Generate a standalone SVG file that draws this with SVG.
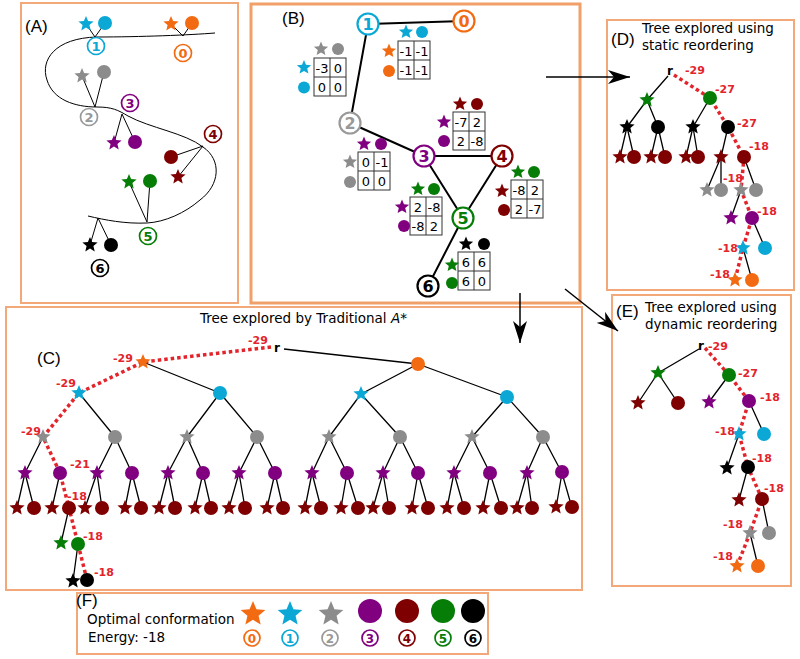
<svg xmlns="http://www.w3.org/2000/svg" xmlns:xlink="http://www.w3.org/1999/xlink" width="800" height="659" viewBox="0 0 800 659">
<style>
.panel{fill:none;stroke:#F2A878;stroke-width:2}
.e{stroke:#000;stroke-width:1.3;fill:none}
.eb{stroke:#000;stroke-width:2;fill:none}
.ea{stroke:#000;stroke-width:1;fill:none}
.rp{stroke:#E3242B;stroke-width:3.5;stroke-dasharray:3.5 3;fill:none}
.rl{font-family:'DejaVu Sans',sans-serif;font-weight:bold;font-size:11px;fill:#E3242B}
.t{font-family:'DejaVu Sans',sans-serif;font-size:13.5px;fill:#000}
.pl{font-family:'Liberation Sans',Arial,sans-serif;font-size:17px;fill:#000}
.r{font-family:'DejaVu Sans',sans-serif;font-weight:bold;font-size:12px;fill:#000}
.f0{fill:#F26B12}.f1{fill:#0BA8D6}.f2{fill:#8C8C8C}.f3{fill:#800080}.f4{fill:#7F0000}.f5{fill:#067D06}.f6{fill:#000}
.num circle{fill:#fff;stroke-width:1.7}
.num text{font-family:'DejaVu Sans',sans-serif;font-weight:bold;text-anchor:middle}
.k0 circle{stroke:#F26B12}.k0 text{fill:#F26B12}
.k1 circle{stroke:#0BA8D6}.k1 text{fill:#0BA8D6}
.k2 circle{stroke:#999}.k2 text{fill:#999}
.k3 circle{stroke:#800080}.k3 text{fill:#800080}
.k4 circle{stroke:#7F0000}.k4 text{fill:#7F0000}
.k5 circle{stroke:#067D06}.k5 text{fill:#067D06}
.k6 circle{stroke:#000}.k6 text{fill:#000}
.sm text{font-size:12px}
.bg circle{stroke-width:2.2}
.bg text{font-size:16px}
.mx rect{fill:#fff;stroke:#333;stroke-width:1}
.mx path{stroke:#333;stroke-width:1;fill:none}
.mx text{font-family:'DejaVu Sans',sans-serif;font-size:13px;text-anchor:middle;fill:#000}
</style>
<defs>
<path id="st" d="M0,-10 L2.645,-3.64 9.51,-3.09 4.28,1.39 5.88,8.09 0,4.5 -5.88,8.09 -4.28,1.39 -9.51,-3.09 -2.645,-3.64Z"/>
<marker id="ah" markerUnits="userSpaceOnUse" markerWidth="22" markerHeight="14" refX="22" refY="7" orient="auto">
<path d="M0,0 L22,7 L0,14 L6,7 Z" fill="#000"/>
</marker>
</defs>
<rect width="800" height="659" fill="#fff"/>

<!-- Panel boxes -->
<g id="panels">
<rect class="panel" x="21" y="3" width="217" height="300"/>
<rect class="panel" x="251" y="4" width="329" height="299" style="stroke-width:3;stroke:#F0A068"/>
<rect class="panel" x="607" y="20" width="187" height="270"/>
<rect class="panel" x="612" y="295" width="179" height="291"/>
<rect class="panel" x="6" y="307" width="576" height="283"/>
<rect class="panel" x="77" y="593" width="411" height="61"/>
</g>

<!-- Connectors (arrows between panels) -->
<g id="connectors">
<line x1="546" y1="77" x2="630" y2="77" stroke="#000" stroke-width="1.5" marker-end="url(#ah)"/>
<line x1="520" y1="293" x2="520" y2="343" stroke="#000" stroke-width="1.5" marker-end="url(#ah)"/>
<line x1="565" y1="289" x2="618" y2="331" stroke="#000" stroke-width="1.5" marker-end="url(#ah)"/>
</g>

<!-- Panel A -->
<g id="panelA">
<text class="pl" x="25" y="32">(A)</text>
<path class="ea" d="M215,33 C190,35 140,37 97,37 C55,38 40,60 47,80 C53,100 75,107 97,107 C112,107 118,110 128,116 C150,128 185,133 203,147 C222,160 220,185 200,200 C185,213 165,222 147,223 C125,224 105,220 88,216"/>
<path class="ea" d="M95,37 L86,24 M95,37 L105,23 M183,36 L171,24 M183,36 L192,23 M95,107 L82,76 M95,107 L104,72 M122,114 L114,143 M122,114 L135,142 M203,146 L171,157 M203,146 L178,177 M147,222 L129,182 M147,222 L150,181 M98,218 L90,245 M98,218 L111,245"/>
<g id="A-res1"><use href="#st" class="f1" transform="translate(86,24) scale(.8)"/><circle class="f1" cx="105" cy="23" r="7"/><g class="num k1"><circle cx="96" cy="46" r="8.5"/><text x="96" y="51" font-size="13">1</text></g></g>
<g id="A-res0"><use href="#st" class="f0" transform="translate(171,24) scale(.8)"/><circle class="f0" cx="192" cy="23" r="7"/><g class="num k0"><circle cx="183" cy="53" r="8.5"/><text x="183" y="58" font-size="13">0</text></g></g>
<g id="A-res2"><use href="#st" class="f2" transform="translate(82,76) scale(.8)"/><circle class="f2" cx="104" cy="72" r="7"/><g class="num k2"><circle cx="89" cy="117" r="8.5"/><text x="89" y="122" font-size="13">2</text></g></g>
<g id="A-res3"><use href="#st" class="f3" transform="translate(114,143) scale(.8)"/><circle class="f3" cx="135" cy="142" r="7"/><g class="num k3"><circle cx="130" cy="103" r="8.5"/><text x="130" y="108" font-size="13">3</text></g></g>
<g id="A-res4"><circle class="f4" cx="171" cy="157" r="7"/><use href="#st" class="f4" transform="translate(178,177) scale(.8)"/><g class="num k4"><circle cx="213" cy="134" r="8.5"/><text x="213" y="139" font-size="13">4</text></g></g>
<g id="A-res5"><use href="#st" class="f5" transform="translate(129,182) scale(.8)"/><circle class="f5" cx="150" cy="181" r="7"/><g class="num k5"><circle cx="148" cy="236" r="8.5"/><text x="148" y="241" font-size="13">5</text></g></g>
<g id="A-res6"><use href="#st" class="f6" transform="translate(90,245) scale(.8)"/><circle class="f6" cx="111" cy="245" r="7"/><g class="num k6"><circle cx="100" cy="268" r="8.5"/><text x="100" y="273" font-size="13">6</text></g></g>
</g>

<!-- Panel B -->
<g id="panelB">
<text class="pl" x="282" y="24">(B)</text>
<g id="B-edges"><path class="eb" d="M368,24 L464,21 M368,24 L350,123 M350,123 L424,156 M424,156 L502,156 M424,156 L463,218 M502,156 L463,218 M463,218 L428,286"/></g>
<g id="B-n1" class="num k1 bg"><circle cx="368" cy="24" r="10.5"/><text x="368" y="30">1</text></g>
<g id="B-n0" class="num k0 bg"><circle cx="464" cy="21" r="10.5"/><text x="464" y="27">0</text></g>
<g id="B-n2" class="num k2 bg"><circle cx="350" cy="123" r="10.5"/><text x="350" y="129">2</text></g>
<g id="B-n3" class="num k3 bg"><circle cx="424" cy="156" r="10.5"/><text x="424" y="162">3</text></g>
<g id="B-n4" class="num k4 bg"><circle cx="502" cy="156" r="10.5"/><text x="502" y="162">4</text></g>
<g id="B-n5" class="num k5 bg"><circle cx="463" cy="218" r="10.5"/><text x="463" y="224">5</text></g>
<g id="B-n6" class="num k6 bg"><circle cx="428" cy="286" r="10.5"/><text x="428" y="292">6</text></g>

<g id="B-m12" class="mx"><rect x="314" y="58" width="32" height="38"/><path d="M330,58 V96 M314,77 H346"/>
<text x="322" y="72.5">-3</text><text x="338" y="72.5">0</text><text x="322" y="91.5">0</text><text x="338" y="91.5">0</text>
<use href="#st" class="f2" transform="translate(321,49) scale(.75)"/><circle class="f2" cx="338" cy="49" r="6"/>
<use href="#st" class="f1" transform="translate(304,67.5) scale(.75)"/><circle class="f1" cx="304" cy="87.5" r="6"/></g>

<g id="B-m10" class="mx"><rect x="398" y="41" width="32" height="38"/><path d="M414,41 V79 M398,60 H430"/>
<text x="406" y="55.5">-1</text><text x="422" y="55.5">-1</text><text x="406" y="74.5">-1</text><text x="422" y="74.5">-1</text>
<use href="#st" class="f1" transform="translate(406,32) scale(.75)"/><circle class="f1" cx="422" cy="32" r="6"/>
<use href="#st" class="f0" transform="translate(389,51) scale(.75)"/><circle class="f0" cx="389" cy="71" r="6"/></g>

<g id="B-m34" class="mx"><rect x="453" y="112" width="32" height="38"/><path d="M469,112 V150 M453,131 H485"/>
<text x="461" y="126.5">-7</text><text x="477" y="126.5">2</text><text x="461" y="145.5">2</text><text x="477" y="145.5">-8</text>
<use href="#st" class="f4" transform="translate(460,104) scale(.75)"/><circle class="f4" cx="477" cy="104" r="6"/>
<use href="#st" class="f3" transform="translate(444,122) scale(.75)"/><circle class="f3" cx="444" cy="141" r="6"/></g>

<g id="B-m23" class="mx"><rect x="358" y="152" width="32" height="38"/><path d="M374,152 V190 M358,171 H390"/>
<text x="366" y="166.5">0</text><text x="382" y="166.5">-1</text><text x="366" y="185.5">0</text><text x="382" y="185.5">0</text>
<use href="#st" class="f3" transform="translate(364,144) scale(.75)"/><circle class="f3" cx="381" cy="144" r="6"/>
<use href="#st" class="f2" transform="translate(350,162) scale(.75)"/><circle class="f2" cx="350" cy="182" r="6"/></g>

<g id="B-m35" class="mx"><rect x="410" y="197" width="32" height="38"/><path d="M426,197 V235 M410,216 H442"/>
<text x="418" y="211.5">2</text><text x="434" y="211.5">-8</text><text x="418" y="230.5">-8</text><text x="434" y="230.5">2</text>
<use href="#st" class="f5" transform="translate(418,189) scale(.75)"/><circle class="f5" cx="434" cy="189" r="6"/>
<use href="#st" class="f3" transform="translate(402,207) scale(.75)"/><circle class="f3" cx="404" cy="226" r="6"/></g>

<g id="B-m45" class="mx"><rect x="511" y="180" width="32" height="38"/><path d="M527,180 V218 M511,199 H543"/>
<text x="519" y="194.5">-8</text><text x="535" y="194.5">2</text><text x="519" y="213.5">2</text><text x="535" y="213.5">-7</text>
<use href="#st" class="f5" transform="translate(518,172) scale(.75)"/><circle class="f5" cx="534" cy="172" r="6"/>
<use href="#st" class="f4" transform="translate(502,191) scale(.75)"/><circle class="f4" cx="504" cy="210" r="6"/></g>

<g id="B-m56" class="mx"><rect x="458" y="252" width="32" height="38"/><path d="M474,252 V290 M458,271 H490"/>
<text x="466" y="266.5">6</text><text x="482" y="266.5">6</text><text x="466" y="285.5">6</text><text x="482" y="285.5">0</text>
<use href="#st" class="f6" transform="translate(466,244) scale(.75)"/><circle class="f6" cx="484" cy="244" r="6"/>
<use href="#st" class="f5" transform="translate(452,265) scale(.75)"/><circle class="f5" cx="452" cy="283" r="6"/></g>
</g>

<!-- Panel D -->
<g id="panelD">
<text class="pl" x="611" y="45">(D)</text>
<text class="t" x="642" y="33">Tree explored using</text>
<text class="t" x="642" y="50">static reordering</text>
<g id="D-edges"><path class="e" d="M668,76 L647,100 M647,100 L627,127 M647,100 L658,127 M710,98 L693,127 M627,127 L620,157 M627,127 L634,157 M658,127 L651,157 M658,127 L665,157 M693,127 L686,157 M693,127 L698,157 M728,127 L721,157 M721,157 L707,190 M721,157 L721,190 M744,157 L756,190 M741,190 L731,218 M752,218 L765,248 M743,248 L752,280"/>
<path class="rp" d="M674,75 L710,98 L728,127 L744,157 L741,190 L752,218 L743,248 L735,280"/></g>
<g id="D-nodes">
<text class="r" x="667" y="75">r</text>
<use href="#st" class="f5" transform="translate(647,100) scale(.8)"/><circle class="f5" cx="710" cy="98" r="7"/>
<use href="#st" class="f6" transform="translate(627,127) scale(.8)"/><circle class="f6" cx="658" cy="127" r="7"/>
<use href="#st" class="f6" transform="translate(693,127) scale(.8)"/><circle class="f6" cx="728" cy="127" r="7"/>
<use href="#st" class="f4" transform="translate(620,157) scale(.8)"/><circle class="f4" cx="634" cy="157" r="7"/>
<use href="#st" class="f4" transform="translate(651,157) scale(.8)"/><circle class="f4" cx="665" cy="157" r="7"/>
<use href="#st" class="f4" transform="translate(686,157) scale(.8)"/><circle class="f4" cx="698" cy="157" r="7"/>
<use href="#st" class="f4" transform="translate(721,157) scale(.8)"/><circle class="f4" cx="744" cy="157" r="7"/>
<use href="#st" class="f2" transform="translate(707,190) scale(.8)"/><circle class="f2" cx="721" cy="190" r="7"/>
<use href="#st" class="f2" transform="translate(741,190) scale(.8)"/><circle class="f2" cx="756" cy="190" r="7"/>
<use href="#st" class="f3" transform="translate(731,218) scale(.8)"/><circle class="f3" cx="752" cy="218" r="7"/>
<use href="#st" class="f1" transform="translate(743,248) scale(.8)"/><circle class="f1" cx="765" cy="248" r="7"/>
<use href="#st" class="f0" transform="translate(735,280) scale(.8)"/><circle class="f0" cx="752" cy="280" r="7"/>
</g>
<g id="D-labels">
<text class="rl" x="685" y="74">-29</text>
<text class="rl" x="715" y="93">-27</text>
<text class="rl" x="737" y="127">-27</text>
<text class="rl" x="749" y="150">-18</text>
<text class="rl" x="723" y="182">-18</text>
<text class="rl" x="757" y="215">-18</text>
<text class="rl" x="718" y="252">-18</text>
<text class="rl" x="710" y="278">-18</text>
</g>
</g>

<!-- Panel E -->
<g id="panelE">
<text class="pl" x="616" y="317">(E)</text>
<text class="t" x="645" y="312">Tree explored using</text>
<text class="t" x="645" y="329">dynamic reordering</text>
<g id="E-edges"><path class="e" d="M699,349 L658,373 M658,373 L638,403 M658,373 L678,403 M729,375 L709,402 M749,401 L764,434 M739,434 L727,468 M748,467 L739,500 M762,499 L769,533 M750,533 L758,566"/>
<path class="rp" d="M705,348 L729,375 L749,401 L739,434 L748,467 L762,499 L750,533 L737,566"/></g>
<g id="E-nodes">
<text class="r" x="698" y="350">r</text>
<use href="#st" class="f5" transform="translate(658,373) scale(.8)"/><circle class="f5" cx="729" cy="375" r="7"/>
<use href="#st" class="f4" transform="translate(638,403) scale(.8)"/><circle class="f4" cx="678" cy="403" r="7"/>
<use href="#st" class="f3" transform="translate(709,402) scale(.8)"/><circle class="f3" cx="749" cy="401" r="7"/>
<use href="#st" class="f1" transform="translate(739,434) scale(.8)"/><circle class="f1" cx="764" cy="434" r="7"/>
<use href="#st" class="f6" transform="translate(727,468) scale(.8)"/><circle class="f6" cx="748" cy="467" r="7"/>
<use href="#st" class="f4" transform="translate(739,500) scale(.8)"/><circle class="f4" cx="762" cy="499" r="7"/>
<use href="#st" class="f2" transform="translate(750,533) scale(.8)"/><circle class="f2" cx="769" cy="533" r="7"/>
<use href="#st" class="f0" transform="translate(737,566) scale(.8)"/><circle class="f0" cx="758" cy="566" r="7"/>
</g>
<g id="E-labels">
<text class="rl" x="708" y="350">-29</text>
<text class="rl" x="738" y="377">-27</text>
<text class="rl" x="760" y="401">-18</text>
<text class="rl" x="715" y="435">-18</text>
<text class="rl" x="752" y="462">-18</text>
<text class="rl" x="764" y="492">-18</text>
<text class="rl" x="723" y="528">-18</text>
<text class="rl" x="713" y="560">-18</text>
</g>
</g>

<!-- Panel C -->
<g id="panelC">
<text class="pl" x="37" y="364">(C)</text>
<text class="t" x="200" y="323">Tree explored by Traditional <tspan font-style="italic">A</tspan>*</text>
<g id="C-edges"><path class="e" d="M284,349 L418,364 M143,362 L220,393 M418,364 L361,394 M418,364 L507,397 M79,393 L115,437 M220,393 L187,437 M220,393 L257,437 M361,394 L329,437 M361,394 L400,437 M507,397 L472,437 M507,397 L543,437 M43,437 L25,473 M115,437 L97,473 M115,437 L132,473 M187,437 L168,473 M187,437 L203,473 M257,437 L239,473 M257,437 L275,473 M329,437 L312,473 M329,437 L347,473 M400,437 L383,473 M400,437 L418,473 M472,437 L454,473 M472,437 L490,473 M543,437 L527,473 M543,437 L562,473 M25,473 L17,508 M25,473 L34,508 M60,473 L52,508 M97,473 L85,508 M97,473 L102,508 M132,473 L125,508 M132,473 L141,508 M168,473 L159,508 M168,473 L175,508 M203,473 L195,508 M203,473 L211,508 M239,473 L229,508 M239,473 L245,508 M275,473 L267,508 M275,473 L283,508 M312,473 L305,508 M312,473 L321,508 M347,473 L341,508 M347,473 L358,508 M383,473 L373,508 M383,473 L389,508 M418,473 L412,508 M418,473 L428,508 M454,473 L447,508 M454,473 L464,508 M490,473 L483,508 M490,473 L501,508 M527,473 L517,508 M527,473 L532,508 M562,473 L556,508 M562,473 L572,508 M69,508 L61,543 M78,544 L73,581"/>
<path class="rp" d="M271,347 L143,362 L79,393 L43,437 L60,473 L69,508 L78,544 L87,580"/></g>
<g id="C-nodes">
<text class="r" x="274" y="352">r</text>
<use href="#st" class="f0" transform="translate(143,362) scale(.8)"/><circle class="f0" cx="418" cy="364" r="7"/>
<use href="#st" class="f1" transform="translate(79,393) scale(.8)"/><circle class="f1" cx="220" cy="393" r="7"/>
<use href="#st" class="f1" transform="translate(361,394) scale(.8)"/><circle class="f1" cx="507" cy="397" r="7"/>
<g class="f2">
<use href="#st" transform="translate(43,437) scale(.8)"/><use href="#st" transform="translate(187,437) scale(.8)"/><use href="#st" transform="translate(329,437) scale(.8)"/><use href="#st" transform="translate(472,437) scale(.8)"/>
<circle cx="115" cy="437" r="7"/><circle cx="257" cy="437" r="7"/><circle cx="400" cy="437" r="7"/><circle cx="543" cy="437" r="7"/>
</g>
<g class="f3">
<use href="#st" transform="translate(25,473) scale(.8)"/><use href="#st" transform="translate(97,473) scale(.8)"/><use href="#st" transform="translate(168,473) scale(.8)"/><use href="#st" transform="translate(239,473) scale(.8)"/><use href="#st" transform="translate(312,473) scale(.8)"/><use href="#st" transform="translate(383,473) scale(.8)"/><use href="#st" transform="translate(454,473) scale(.8)"/><use href="#st" transform="translate(527,473) scale(.8)"/>
<circle cx="60" cy="473" r="7"/><circle cx="132" cy="473" r="7"/><circle cx="203" cy="473" r="7"/><circle cx="275" cy="473" r="7"/><circle cx="347" cy="473" r="7"/><circle cx="418" cy="473" r="7"/><circle cx="490" cy="473" r="7"/><circle cx="562" cy="472" r="7"/>
</g>
<g class="f4">
<use href="#st" transform="translate(17,508) scale(.8)"/><use href="#st" transform="translate(52,508) scale(.8)"/><use href="#st" transform="translate(85,508) scale(.8)"/><use href="#st" transform="translate(125,508) scale(.8)"/><use href="#st" transform="translate(159,508) scale(.8)"/><use href="#st" transform="translate(195,508) scale(.8)"/><use href="#st" transform="translate(229,508) scale(.8)"/><use href="#st" transform="translate(267,508) scale(.8)"/><use href="#st" transform="translate(305,508) scale(.8)"/><use href="#st" transform="translate(341,508) scale(.8)"/><use href="#st" transform="translate(373,508) scale(.8)"/><use href="#st" transform="translate(412,508) scale(.8)"/><use href="#st" transform="translate(447,508) scale(.8)"/><use href="#st" transform="translate(483,508) scale(.8)"/><use href="#st" transform="translate(517,508) scale(.8)"/><use href="#st" transform="translate(556,507) scale(.8)"/>
<circle cx="34" cy="508" r="7"/><circle cx="69" cy="508" r="7"/><circle cx="102" cy="508" r="7"/><circle cx="141" cy="508" r="7"/><circle cx="175" cy="508" r="7"/><circle cx="211" cy="508" r="7"/><circle cx="245" cy="508" r="7"/><circle cx="283" cy="508" r="7"/><circle cx="321" cy="508" r="7"/><circle cx="358" cy="508" r="7"/><circle cx="389" cy="508" r="7"/><circle cx="428" cy="508" r="7"/><circle cx="464" cy="508" r="7"/><circle cx="501" cy="508" r="7"/><circle cx="532" cy="508" r="7"/><circle cx="572" cy="507" r="7"/>
</g>
<use href="#st" class="f5" transform="translate(61,543) scale(.8)"/><circle class="f5" cx="78" cy="544" r="7"/>
<use href="#st" class="f6" transform="translate(73,581) scale(.8)"/><circle class="f6" cx="87" cy="580" r="7"/>
</g>
<g id="C-labels">
<text class="rl" x="248" y="344">-29</text>
<text class="rl" x="113" y="362">-29</text>
<text class="rl" x="56" y="387">-29</text>
<text class="rl" x="21" y="435">-29</text>
<text class="rl" x="70" y="468">-21</text>
<text class="rl" x="67" y="500">-18</text>
<text class="rl" x="83" y="540">-18</text>
<text class="rl" x="94" y="576">-18</text>
</g>
</g>

<!-- Panel F -->
<g id="panelF">
<text class="pl" x="76" y="606" font-size="16">(F)</text>
<text class="t" x="87" y="624" font-size="13">Optimal conformation</text>
<text class="t" x="88" y="642" font-size="13">Energy: -18</text>
<g id="F-0"><use href="#st" class="f0" transform="translate(253,614) scale(1.3)"/><g class="num k0"><circle cx="252" cy="638" r="8"/><text x="252" y="642.5" font-size="12">0</text></g></g>
<g id="F-1"><use href="#st" class="f1" transform="translate(290,614) scale(1.3)"/><g class="num k1"><circle cx="290" cy="638" r="8"/><text x="290" y="642.5" font-size="12">1</text></g></g>
<g id="F-2"><use href="#st" class="f2" transform="translate(331,614) scale(1.3)"/><g class="num k2"><circle cx="330" cy="638" r="8"/><text x="330" y="642.5" font-size="12">2</text></g></g>
<g id="F-3"><circle class="f3" cx="370" cy="611" r="12"/><g class="num k3"><circle cx="370" cy="638" r="8"/><text x="370" y="642.5" font-size="12">3</text></g></g>
<g id="F-4"><circle class="f4" cx="407" cy="611" r="12"/><g class="num k4"><circle cx="407" cy="638" r="8"/><text x="407" y="642.5" font-size="12">4</text></g></g>
<g id="F-5"><circle class="f5" cx="443" cy="611" r="12"/><g class="num k5"><circle cx="443" cy="638" r="8"/><text x="443" y="642.5" font-size="12">5</text></g></g>
<g id="F-6"><circle class="f6" cx="473" cy="611" r="12"/><g class="num k6"><circle cx="473" cy="638" r="8"/><text x="473" y="642.5" font-size="12">6</text></g></g>
</g>
</svg>
